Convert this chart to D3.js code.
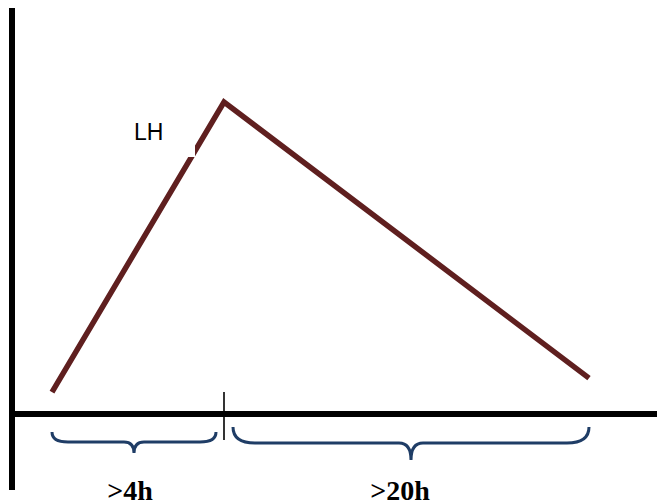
<!DOCTYPE html>
<html><head><meta charset="utf-8">
<script src="https://cdn.jsdelivr.net/npm/d3@7"></script>
<style>body{margin:0;background:#fff}svg{display:block}</style>
</head><body>
<svg id="c" width="657" height="502"></svg>
<script>
// Schematic LH surge: time (h) and relative level
const phases = ["baseline", "LH peak", "decline"];
const hours = [0, 4, 24];
const levels = [0.07, 1, 0.115];
const intervals = [[0, 4], [4, 24]];
const intervalLabels = [">4h", ">20h"];
const seriesLabel = "LH";

const svg = d3.select("#c");
const x = d3.scaleLinear().domain([0, 4, 24]).range([52, 224, 589]);
const y = d3.scaleLinear().domain([0, 1]).range([414, 102]);

// axes
svg.append("line").attr("x1", 12).attr("x2", 12).attr("y1", 8).attr("y2", 490)
  .attr("stroke", "#000").attr("stroke-width", 6);
svg.append("line").attr("x1", 12).attr("x2", 657).attr("y1", y(0)).attr("y2", y(0))
  .attr("stroke", "#000").attr("stroke-width", 6);
// tick at peak time
svg.append("line").attr("x1", x(4)).attr("x2", x(4)).attr("y1", 392).attr("y2", 440)
  .attr("stroke", "#000").attr("stroke-width", 1.6);

// line
const line = d3.line().x((d, i) => x(hours[i])).y(d => y(d));
svg.append("path").datum(levels).attr("d", line)
  .attr("fill", "none").attr("stroke", "#5f1f1f").attr("stroke-width", 5.5)
  .attr("stroke-linejoin", "miter");

// label box + text
svg.append("rect").attr("x", 128).attr("y", 108).attr("width", 67).attr("height", 49).attr("fill", "#fff");
svg.append("text").attr("x", 134).attr("y", 140).text(seriesLabel)
  .attr("font-family", "Liberation Sans, Arial, sans-serif").attr("font-size", 23).attr("fill", "#000");

// braces
const braceGeom = [
  {pad0: 0, pad1: 8, top: 432, flat: 442, tip: 453, r: 16, r2: 10, dx: -4},
  {pad0: 9, pad1: 0, top: 427, flat: 443, tip: 460, r: 22, r2: 12, dx: -11}
];
function bracePath(x0, x1, g) {
  const mid = (x0 + x1) / 2, r = g.r, r2 = g.r2;
  return `M${x0},${g.top} Q${x0},${g.flat} ${x0 + r},${g.flat} L${mid - r2},${g.flat} ` +
    `Q${mid},${g.flat} ${mid},${g.tip} Q${mid},${g.flat} ${mid + r2},${g.flat} ` +
    `L${x1 - r},${g.flat} Q${x1},${g.flat} ${x1},${g.top}`;
}
intervals.forEach((iv, i) => {
  const g = braceGeom[i];
  const x0 = x(iv[0]) + g.pad0, x1 = x(iv[1]) - g.pad1;
  svg.append("path").attr("d", bracePath(x0, x1, g))
    .attr("fill", "none").attr("stroke", "#1f3d66").attr("stroke-width", 3);
  svg.append("text").attr("x", (x0 + x1) / 2 + g.dx).attr("y", 500)
    .attr("text-anchor", "middle").text(intervalLabels[i])
    .attr("font-family", "Liberation Serif, Times New Roman, serif")
    .attr("font-weight", "bold").attr("font-size", 28).attr("fill", "#000");
});
</script>
</body></html>
